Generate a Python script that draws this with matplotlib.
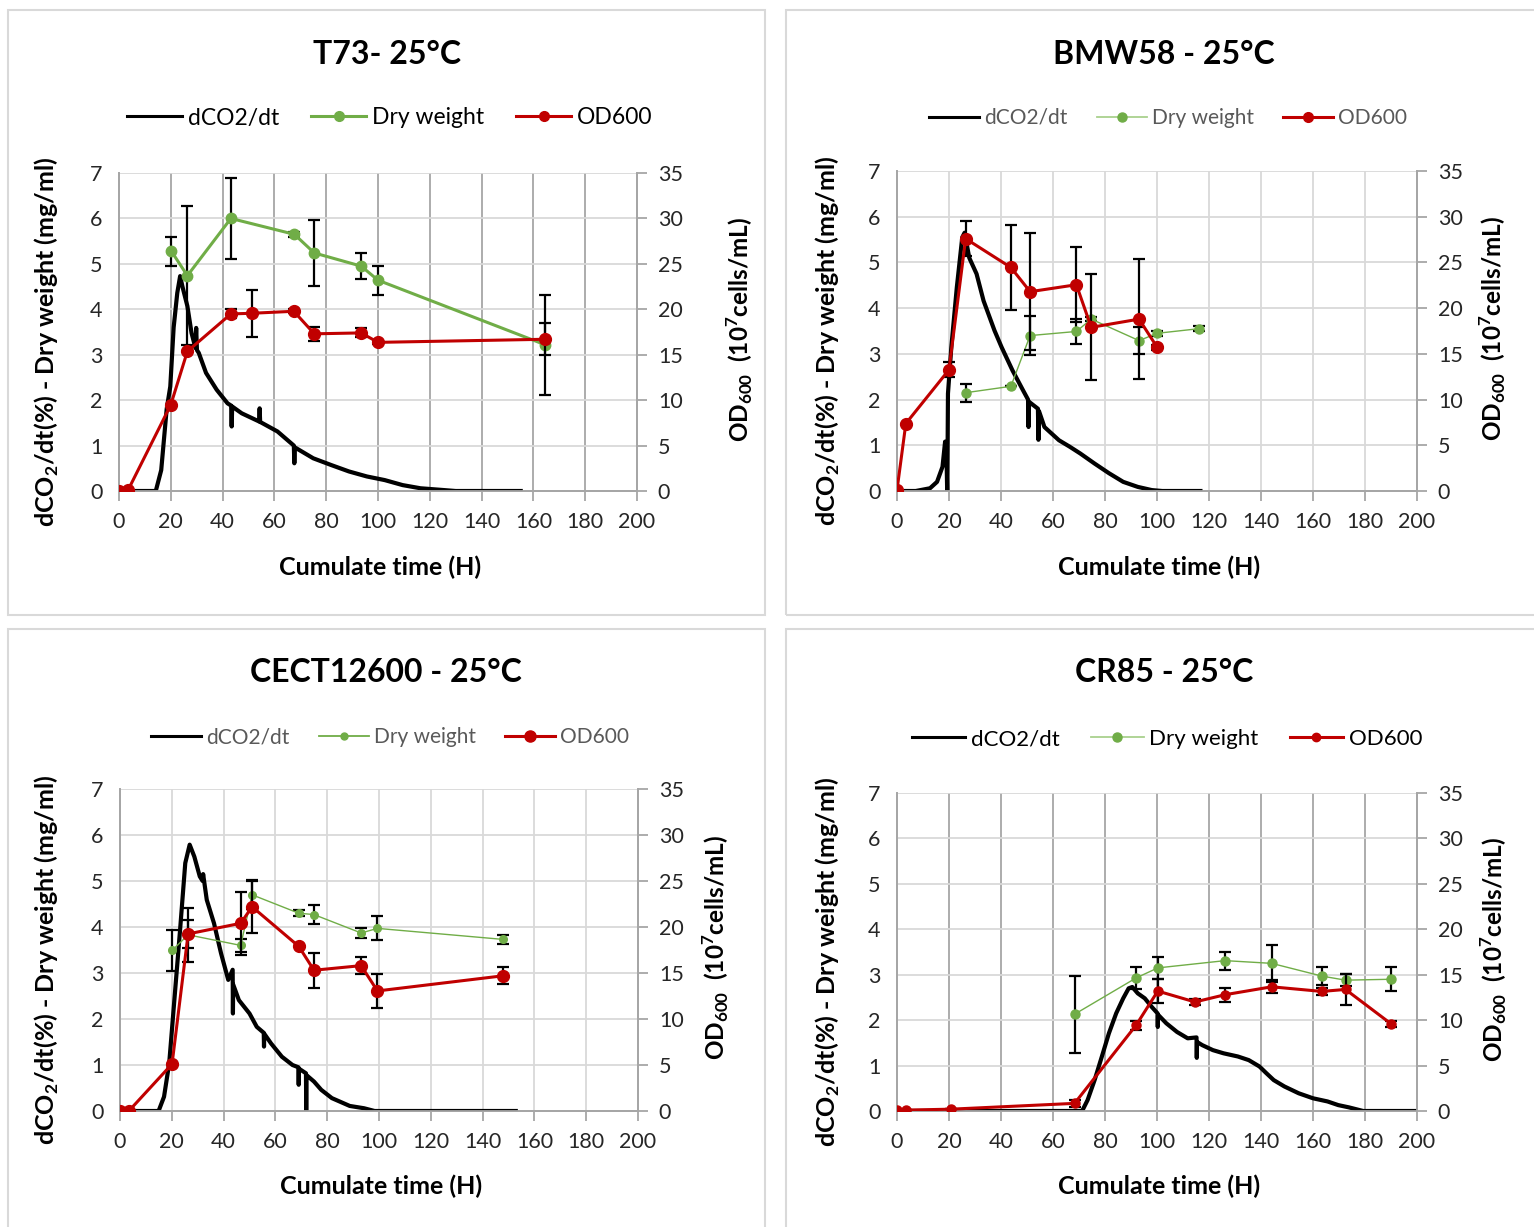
import matplotlib
matplotlib.use("Agg")
import matplotlib.pyplot as plt
from matplotlib.lines import Line2D
from matplotlib.patches import Rectangle

plt.rcParams['font.family'] = ['Lato', 'DejaVu Sans']
plt.rcParams['mathtext.fontset'] = 'custom'
plt.rcParams['mathtext.rm'] = 'Lato'
plt.rcParams['mathtext.bf'] = 'Lato:bold'

W, H = 1534, 1227

# ---------------- DATA ----------------
titles = ["T73- 25°C", "BMW58 - 25°C", "CECT12600 - 25°C", "CR85 - 25°C"]
legend_labels = ["dCO2/dt", "Dry weight", "OD600"]
x_ticks = [0, 20, 40, 60, 80, 100, 120, 140, 160, 180, 200]
left_ticks = [0, 1, 2, 3, 4, 5, 6, 7]
right_ticks = [0, 5, 10, 15, 20, 25, 30, 35]

# T73
t73_co2_t = [0, 14.2, 16.3, 18.4, 19.8, 21.1, 22.5, 23.6, 24.5, 26.4, 28.0, 29.5, 29.8, 30.1, 30.8,
             33.6, 37.7, 41.9, 43.3, 43.5, 43.7, 47.4, 54.1, 54.3, 54.5, 61.2, 67.5, 67.7, 67.9,
             75.0, 82.0, 88.8, 95.7, 102.6, 109.5, 116.4, 123.3, 130.0, 155.1]
t73_co2_v = [0, 0, 0.46, 1.80, 2.30, 3.60, 4.36, 4.73, 4.50, 4.07, 3.48, 3.15, 3.59, 3.10, 3.04,
             2.60, 2.23, 1.93, 1.88, 1.42, 1.86, 1.71, 1.53, 1.82, 1.52, 1.31, 1.00, 0.61, 0.96,
             0.72, 0.57, 0.43, 0.32, 0.24, 0.13, 0.06, 0.03, 0.0, 0.0]
t73_dw_t = [20.2, 26.4, 43.2, 67.7, 75.4, 93.5, 100.0, 164.5]
t73_dw_v = [5.28, 4.74, 6.00, 5.65, 5.24, 4.95, 4.64, 3.22]
t73_dw_e = [0.32, 1.53, 0.90, 0.05, 0.72, 0.29, 0.32, 1.10]
t73_od_t = [0, 3.5, 20.0, 26.4, 43.2, 51.2, 67.5, 75.4, 93.5, 100.0, 164.5]
t73_od_v = [0, 0.1, 9.49, 15.37, 19.49, 19.56, 19.78, 17.30, 17.40, 16.36, 16.70]
t73_od_e = [0, 0, 0, 0, 0.5, 2.57, 0.2, 0.74, 0.5, 0.2, 1.75]

# BMW58
bmw_co2_t = [0, 7.2, 12.7, 15.4, 17.5, 18.5, 19.0, 19.3, 19.35, 19.6, 20.9, 23.0, 25.1, 26.0, 27.8,
             30.6, 33.3, 37.5, 40.2, 44.4, 48.5, 50.4, 50.6, 50.8, 54.2, 54.4, 54.6, 56.7, 62.3,
             66.4, 70.5, 76.0, 81.5, 87.0, 92.6, 98.0, 102.0, 116.7]
bmw_co2_v = [0, 0, 0.06, 0.20, 0.53, 1.08, 0.90, 0.0, 0.0, 2.13, 3.15, 4.45, 5.55, 5.65, 5.10,
             4.75, 4.16, 3.51, 3.15, 2.64, 2.20, 2.00, 1.40, 1.95, 1.80, 1.12, 1.75, 1.40, 1.11,
             0.97, 0.82, 0.60, 0.39, 0.20, 0.09, 0.02, 0.0, 0.0]
bmw_dw_t = [26.4, 43.8, 51.2, 69.0, 74.7, 93.1, 100.1, 116.0]
bmw_dw_v = [2.15, 2.29, 3.40, 3.49, 3.76, 3.29, 3.45, 3.55]
bmw_dw_e = [0.20, 0.0, 0.42, 0.28, 0.05, 0.30, 0.05, 0.05]
bmw_od_t = [0, 3.4, 20.0, 26.4, 43.8, 51.2, 69.0, 74.7, 93.1, 100.1]
bmw_od_v = [0.1, 7.38, 13.26, 27.60, 24.45, 21.80, 22.56, 17.90, 18.80, 15.70]
bmw_od_e = [0, 0, 0.8, 1.90, 4.60, 6.40, 4.10, 5.80, 6.60, 0.3]

# CECT12600
cect_co2_t = [0, 14.9, 17.0, 19.0, 21.1, 23.2, 25.2, 26.9, 28.7, 30.8, 31.9, 32.1, 33.5, 36.3, 39.0,
              41.8, 43.5, 43.6, 43.7, 45.9, 50.0, 52.8, 55.5, 55.6, 55.7, 58.3, 62.5, 66.6, 68.9,
              69.0, 69.1, 71.8, 71.9, 72.0, 74.9, 77.7, 81.8, 88.7, 94.2, 98.3, 152.8]
cect_co2_v = [0, 0, 0.31, 1.04, 2.49, 3.94, 5.39, 5.79, 5.53, 5.10, 5.0, 5.15, 4.59, 4.08, 3.43,
              2.85, 3.07, 2.12, 2.75, 2.41, 2.12, 1.83, 1.70, 1.40, 1.68, 1.47, 1.18, 1.00, 0.95,
              0.57, 0.92, 0.82, 0.0, 0.78, 0.64, 0.46, 0.28, 0.11, 0.06, 0.0, 0.0]
cect_dw_t = [20.1, 26.3, 46.6, 51.0, 69.0, 74.9, 93.1, 99.4, 148.0]
cect_dw_v = [3.49, 3.83, 3.60, 4.70, 4.30, 4.27, 3.87, 3.97, 3.73]
cect_dw_e = [0.45, 0.58, 0.15, 0.30, 0.06, 0.20, 0.10, 0.26, 0.10]
cect_od_t = [0, 3.4, 20.1, 26.3, 46.6, 51.0, 69.0, 74.9, 93.1, 99.4, 148.0]
cect_od_v = [0, 0, 5.11, 19.25, 20.40, 22.20, 17.90, 15.30, 15.80, 13.05, 14.70]
cect_od_e = [0, 0, 0, 1.55, 3.40, 2.90, 0, 1.90, 0.90, 1.80, 0.90]

# CR85
cr_co2_t = [0, 71.2, 73.3, 76.0, 78.8, 81.5, 84.3, 87.0, 89.1, 90.5, 92.6, 95.3, 98.0, 100.2, 100.3,
            100.4, 103.6, 107.7, 111.8, 115.2, 115.3, 115.4, 117.4, 121.5, 125.6, 131.1, 135.3,
            139.4, 142.1, 144.9, 149.0, 154.5, 160.0, 165.6, 169.7, 173.8, 179.3, 200.0]
cr_co2_v = [0, 0, 0.24, 0.68, 1.20, 1.71, 2.15, 2.48, 2.70, 2.73, 2.59, 2.48, 2.29, 2.15, 1.85,
            2.12, 1.93, 1.74, 1.60, 1.62, 1.17, 1.52, 1.45, 1.34, 1.27, 1.20, 1.12,
            0.98, 0.83, 0.68, 0.54, 0.39, 0.28, 0.21, 0.13, 0.08, 0.0, 0.0]
cr_dw_t = [68.3, 92.0, 100.3, 126.2, 144.1, 163.4, 172.5, 190.0]
cr_dw_v = [2.13, 2.93, 3.15, 3.31, 3.25, 2.97, 2.88, 2.90]
cr_dw_e = [0.85, 0.25, 0.25, 0.20, 0.40, 0.20, 0.13, 0.26]
cr_od_t = [0, 3.3, 20.7, 68.3, 92.0, 100.3, 114.6, 126.2, 144.1, 163.4, 172.5, 190.0]
cr_od_v = [0.1, 0.1, 0.2, 0.84, 9.46, 13.20, 12.00, 12.80, 13.67, 13.16, 13.38, 9.60]
cr_od_e = [0, 0, 0, 0.4, 0.5, 1.3, 0.3, 0.75, 0.70, 0.4, 1.75, 0.3]

GREEN = '#70ad47'
RED = '#c00000'

panels = [
    dict(title=titles[0], co2=(t73_co2_t, t73_co2_v), dw=(t73_dw_t, t73_dw_v, t73_dw_e),
         od=(t73_od_t, t73_od_v, t73_od_e),
         box=(8, 10, 765, 615), ax=(119, 173, 637, 491), title_xy=(387, 55), leg_xy=(390, 118),
         xl_y=567, yl_x=47, yr_x=740, vgrid='#a6a6a6',
         dw_lw=2.2, dw_ms=7.5, od_lw=2.2, od_ms=8.5, leg_fs=16.5, leg_col='black',
         leg_green=GREEN, leg_dw_ms=7, leg_od_ms=7),
    dict(title=titles[1], co2=(bmw_co2_t, bmw_co2_v), dw=(bmw_dw_t, bmw_dw_v, bmw_dw_e),
         od=(bmw_od_t, bmw_od_v, bmw_od_e),
         box=(786, 10, 1540, 615), ax=(897, 171, 1417, 491), title_xy=(1164, 55), leg_xy=(1168, 118),
         xl_y=567, yl_x=828, yr_x=1493, vgrid='#d9d9d9',
         dw_lw=1.0, dw_ms=6.5, od_lw=2.2, od_ms=8.5, leg_fs=15, leg_col='#595959',
         leg_green='#a9d18e', leg_dw_ms=6.5, leg_od_ms=7),
    dict(title=titles[2], co2=(cect_co2_t, cect_co2_v), dw=(cect_dw_t, cect_dw_v, cect_dw_e),
         od=(cect_od_t, cect_od_v, cect_od_e),
         box=(8, 629, 765, 1240), ax=(120, 789, 638, 1111), title_xy=(386, 673), leg_xy=(390, 737),
         xl_y=1186, yl_x=47, yr_x=716, vgrid='#d9d9d9',
         dw_lw=1.0, dw_ms=5.5, od_lw=2.2, od_ms=8.5, leg_fs=15, leg_col='#595959',
         leg_green=GREEN, leg_dw_ms=5, leg_od_ms=8),
    dict(title=titles[3], co2=(cr_co2_t, cr_co2_v), dw=(cr_dw_t, cr_dw_v, cr_dw_e),
         od=(cr_od_t, cr_od_v, cr_od_e),
         box=(786, 629, 1540, 1240), ax=(897, 793, 1417, 1111), title_xy=(1164, 673), leg_xy=(1167, 739),
         xl_y=1186, yl_x=828, yr_x=1494, vgrid='#a6a6a6',
         dw_lw=1.0, dw_ms=6.5, od_lw=2.2, od_ms=6.5, leg_fs=16, leg_col='black',
         leg_green='#a9d18e', leg_dw_ms=6.5, leg_od_ms=6),
]

fig = plt.figure(figsize=(W / 100, H / 100), dpi=100)


def fx(px):
    return px / W


def fy(py):
    return 1 - py / H


TICKCOL = '#262626'
SPINE = '#a6a6a6'

for p in panels:
    x0, y0, x1, y1 = p['box']
    fig.patches.append(Rectangle((fx(x0), fy(y1)), fx(x1 - x0), (y1 - y0) / H,
                                 transform=fig.transFigure, fill=False,
                                 edgecolor='#d9d9d9', lw=1.5, zorder=0))
    l, t, r, b = p['ax']
    ax = fig.add_axes([fx(l), fy(b), fx(r - l), (b - t) / H])
    ax2 = ax.twinx()

    ax.set_xlim(0, 200)
    ax.set_ylim(0, 7)
    ax2.set_ylim(0, 35)
    ax.set_xticks(x_ticks)
    ax.set_yticks(left_ticks)
    ax2.set_yticks(right_ticks)

    ax.grid(axis='y', color='#d9d9d9', lw=1.3, zorder=0)
    ax.grid(axis='x', color=p['vgrid'], lw=1.3, zorder=0)
    ax.set_axisbelow(True)

    for a in (ax, ax2):
        a.spines['top'].set_visible(False)
        for s in ('left', 'right', 'bottom'):
            a.spines[s].set_color(SPINE)
            a.spines[s].set_linewidth(1.3)
    ax.tick_params(axis='y', length=0, labelsize=15.5, labelcolor=TICKCOL, pad=12)
    ax.tick_params(axis='x', length=7, color=SPINE, width=1.3, labelsize=15.5,
                   labelcolor=TICKCOL, pad=8)
    ax2.tick_params(axis='y', length=7, color=SPINE, width=1.3, labelsize=15.5,
                    labelcolor=TICKCOL, pad=8)

    # dCO2 trace
    ct, cv = p['co2']
    ax.plot(ct, cv, color='black', lw=3.0, zorder=3, solid_joinstyle='round')
    # Dry weight
    dt, dv, de = p['dw']
    ax.errorbar(dt, dv, yerr=de, fmt='none', ecolor='black', elinewidth=1.6,
                capsize=4, capthick=1.6, zorder=4)
    ax.plot(dt, dv, color=GREEN, lw=p['dw_lw'], marker='o', ms=p['dw_ms'],
            mfc=GREEN, mec=GREEN, zorder=5)
    # OD600
    ot, ov, oe = p['od']
    ax2.errorbar(ot, ov, yerr=oe, fmt='none', ecolor='black', elinewidth=1.6,
                 capsize=4, capthick=1.6, zorder=4)
    ax2.plot(ot, ov, color=RED, lw=p['od_lw'], marker='o', ms=p['od_ms'],
             mfc=RED, mec=RED, zorder=5)

    # texts
    fig.text(fx(p['title_xy'][0]), fy(p['title_xy'][1]), p['title'], ha='center',
             va='center', fontsize=23, fontweight='bold', color='black')
    fig.text(fx((l + r) / 2 + 2), fy(p['xl_y']), "Cumulate time (H)", ha='center',
             va='center', fontsize=18, fontweight='bold', color='black')
    fig.text(fx(p['yl_x']), fy((t + b) / 2 + 10), r"dCO$_\mathbf{2}$/dt(%) - Dry weight (mg/ml)",
             ha='center', va='center', rotation=90, fontsize=18, fontweight='bold')
    fig.text(fx(p['yr_x']), fy((t + b) / 2 - 3), r"OD$_\mathbf{600}$  (10$^\mathbf{7}$cells/mL)",
             ha='center', va='center', rotation=90, fontsize=17.5, fontweight='bold')

    handles = [
        Line2D([], [], color='black', lw=2.2),
        Line2D([], [], color=p['leg_green'], lw=max(p['dw_lw'], 1.3), marker='o',
               ms=p['leg_dw_ms'], mfc=GREEN, mec=GREEN),
        Line2D([], [], color=RED, lw=p['od_lw'], marker='o', ms=p['leg_od_ms'],
               mfc=RED, mec=RED),
    ]
    fig.legend(handles, legend_labels, loc='center',
               bbox_to_anchor=(fx(p['leg_xy'][0]), fy(p['leg_xy'][1])), ncol=3,
               frameon=False, fontsize=p['leg_fs'], labelcolor=p['leg_col'],
               handlelength=2.4, handletextpad=0.25, columnspacing=1.4)

fig.savefig("out.png", dpi=100)
